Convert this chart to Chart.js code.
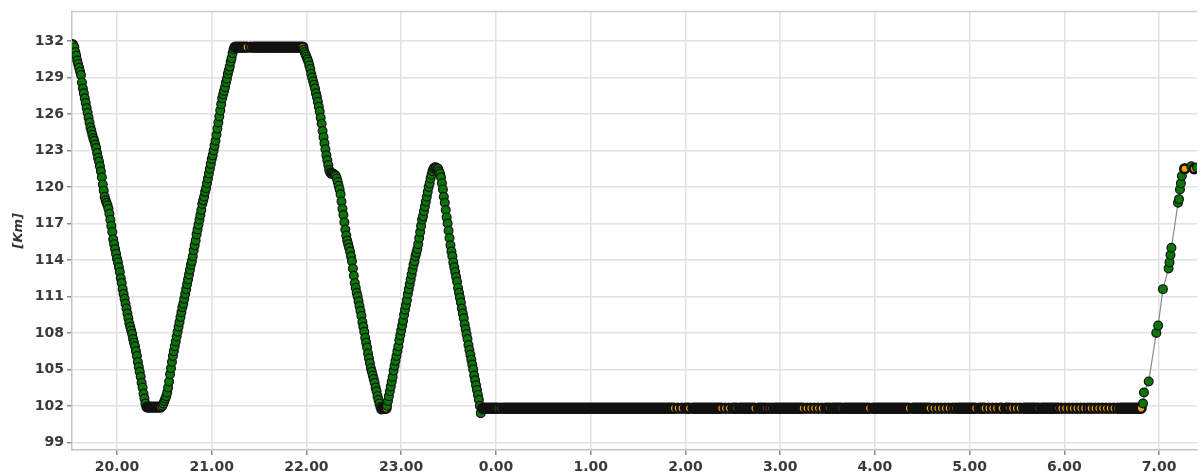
<!DOCTYPE html>
<html>
<head>
<meta charset="utf-8">
<script src="https://cdn.jsdelivr.net/npm/chart.js@4/dist/chart.umd.min.js"></script>
<style>
  html, body { margin: 0; padding: 0; background: #fff; overflow: hidden; }
  #wrap { width: 1204px; height: 476px; }
</style>
</head>
<body>
<div id="wrap"><canvas id="chart" width="1204" height="476"></canvas></div>
<script>
// Time axis: hours counted from midnight of the first evening (24.50 = 0:30 next morning)
const hourTicks  = [20, 21, 22, 23, 24, 25, 26, 27, 28, 29, 30, 31];
const hourLabels = ['20.00', '21.00', '22.00', '23.00', '0.00', '1.00', '2.00', '3.00', '4.00', '5.00', '6.00', '7.00'];
const kmTicks    = [99, 102, 105, 108, 111, 114, 117, 120, 123, 126, 129, 132];

// Stationary readings: times only, each stop sits at one kilometre mark
const startStopT = [19.53];
const startStopKm = 131.7;

const lowStop1T = [20.32, 20.34, 20.36, 20.38, 20.40, 20.42, 20.44, 20.46];
const lowStop1Km = 101.9;

const topStopT = [21.25, 21.27, 21.29, 21.31, 21.33, 21.35, 21.37, 21.41, 21.44, 21.46, 21.48, 21.50,
  21.52, 21.54, 21.56, 21.58, 21.60, 21.62, 21.64, 21.66, 21.68, 21.70, 21.72, 21.74, 21.76, 21.78,
  21.80, 21.82, 21.84, 21.86, 21.88, 21.90, 21.92, 21.94, 21.96];
const topStopKm = 131.5;

const lowStop2T = [22.80, 22.82, 22.84];
const lowStop2Km = 101.8;

const nightStopT = [23.86, 23.88, 23.90, 23.92, 23.94, 23.96, 23.98, 24.00, 24.02, 24.05,
  24.08, 24.10, 24.12, 24.14, 24.16, 24.18, 24.20, 24.22, 24.24, 24.26, 24.28, 24.30, 24.32, 24.34,
  24.36, 24.38, 24.40, 24.42, 24.44, 24.46, 24.48, 24.50, 24.52, 24.54, 24.56, 24.58, 24.60, 24.62,
  24.64, 24.66, 24.68, 24.70, 24.72, 24.74, 24.76, 24.78, 24.80, 24.82, 24.84, 24.86, 24.88, 24.90,
  24.92, 24.94, 24.96, 24.98, 25.00, 25.02, 25.04, 25.06, 25.08, 25.10, 25.12, 25.14, 25.16, 25.18,
  25.20, 25.22, 25.24, 25.26, 25.28, 25.30, 25.32, 25.34, 25.36, 25.38, 25.40, 25.42, 25.44, 25.46,
  25.48, 25.50, 25.52, 25.54, 25.56, 25.58, 25.60, 25.62, 25.64, 25.66, 25.68, 25.70, 25.72, 25.74,
  25.76, 25.78, 25.80, 25.82, 25.84, 25.86, 25.88, 25.92, 25.96, 26.00, 26.02, 26.04, 26.08,
  26.10, 26.12, 26.14, 26.16, 26.18, 26.20, 26.22, 26.24, 26.26, 26.28, 26.30, 26.32, 26.34, 26.36,
  26.38, 26.42, 26.46, 26.50, 26.52, 26.54, 26.57, 26.59, 26.61, 26.63, 26.65, 26.67, 26.69, 26.71,
  26.73, 26.77, 26.79, 26.81, 26.83, 26.85, 26.88, 26.91, 26.94, 26.96, 26.98, 27.00, 27.02, 27.04,
  27.06, 27.08, 27.10, 27.12, 27.14, 27.16, 27.18, 27.20, 27.22, 27.24, 27.28, 27.32, 27.36, 27.40,
  27.44, 27.48, 27.50, 27.52, 27.55, 27.57, 27.59, 27.61, 27.63, 27.65, 27.68, 27.70, 27.72, 27.74,
  27.76, 27.78, 27.80, 27.82, 27.84, 27.86, 27.88, 27.90, 27.92, 27.94, 27.98, 28.00, 28.02, 28.04,
  28.06, 28.08, 28.10, 28.12, 28.14, 28.16, 28.18, 28.20, 28.22, 28.24, 28.26, 28.28, 28.30, 28.32,
  28.34, 28.36, 28.40, 28.42, 28.44, 28.46, 28.48, 28.50, 28.52, 28.54, 28.56, 28.58, 28.62, 28.66,
  28.70, 28.74, 28.78, 28.82, 28.85, 28.88, 28.90, 28.92, 28.94, 28.96, 28.98, 29.00, 29.02, 29.04,
  29.06, 29.10, 29.12, 29.14, 29.16, 29.20, 29.24, 29.28, 29.32, 29.34, 29.38, 29.40, 29.42, 29.45,
  29.49, 29.53, 29.57, 29.59, 29.61, 29.63, 29.65, 29.67, 29.69, 29.71, 29.73, 29.76, 29.78, 29.80,
  29.82, 29.84, 29.86, 29.88, 29.90, 29.92, 29.94, 29.97, 30.01, 30.05, 30.09, 30.13, 30.17, 30.21,
  30.25, 30.28, 30.32, 30.36, 30.40, 30.44, 30.48, 30.52, 30.56, 30.59, 30.61, 30.63, 30.65, 30.67,
  30.69, 30.71, 30.73, 30.75, 30.77, 30.79, 30.81];
const nightStopKm = 101.8;

// Moving readings: [hour, km]
const down1 = [[19.55,131.5],[19.56,131.1],[19.57,130.8],[19.58,130.4],[19.59,130.1],[19.60,129.8],
  [19.61,129.5],[19.62,129.2],[19.63,128.6],[19.64,128.1],[19.65,127.7],[19.66,127.3],[19.67,126.9],
  [19.68,126.5],[19.69,126.1],[19.70,125.7],[19.71,125.3],[19.72,124.9],[19.73,124.6],[19.74,124.3],
  [19.75,124.0],[19.76,123.8],[19.77,123.5],[19.78,123.2],[19.79,122.8],[19.80,122.4],[19.81,122.1],
  [19.82,121.7],[19.83,121.3],[19.84,120.8],[19.85,120.2],[19.86,119.7],[19.87,119.2],[19.88,118.9],
  [19.89,118.7],[19.90,118.5],[19.91,118.2],[19.92,117.8],[19.93,117.3],[19.94,116.8],[19.95,116.3],
  [19.96,115.7],[19.97,115.3],[19.98,114.9],[19.99,114.5],[20.00,114.1],[20.01,113.8],[20.02,113.4],
  [20.03,113.0],[20.04,112.5],[20.05,112.1],[20.06,111.6],[20.07,111.2],[20.08,110.8],[20.09,110.4],
  [20.10,110.0],[20.11,109.6],[20.12,109.2],[20.13,108.8],[20.14,108.5],[20.15,108.2],[20.16,107.9],
  [20.17,107.5],[20.18,107.2],[20.19,106.9],[20.20,106.5],[20.21,106.1],[20.22,105.6],[20.23,105.2],
  [20.24,104.8],[20.25,104.4],[20.26,103.9],[20.27,103.5],[20.28,103.0],[20.29,102.6],[20.30,102.2],
  [20.31,101.9]];

const up1 = [[20.48,102.0],[20.49,102.2],[20.50,102.4],[20.51,102.6],[20.52,102.8],[20.53,103.1],
  [20.54,103.5],[20.55,104.0],[20.56,104.6],[20.57,105.1],[20.58,105.6],[20.59,106.1],[20.60,106.5],
  [20.61,106.9],[20.62,107.3],[20.63,107.7],[20.64,108.1],[20.65,108.5],[20.66,108.9],[20.67,109.3],
  [20.68,109.7],[20.69,110.1],[20.70,110.4],[20.71,110.8],[20.72,111.2],[20.73,111.6],[20.74,112.0],
  [20.75,112.4],[20.76,112.8],[20.77,113.2],[20.78,113.6],[20.79,113.9],[20.80,114.3],[20.81,114.8],
  [20.82,115.2],[20.83,115.6],[20.84,116.1],[20.85,116.5],[20.86,116.9],[20.87,117.3],[20.88,117.7],
  [20.89,118.1],[20.90,118.6],[20.91,118.9],[20.92,119.2],[20.93,119.6],[20.94,119.9],[20.95,120.3],
  [20.96,120.7],[20.97,121.1],[20.98,121.5],[20.99,121.9],[21.00,122.3],[21.01,122.6],[21.02,123.0],
  [21.03,123.4],[21.04,123.8],[21.05,124.3],[21.06,124.8],[21.07,125.3],[21.08,125.8],[21.09,126.3],
  [21.10,126.8],[21.11,127.3],[21.12,127.6],[21.13,127.9],[21.14,128.2],[21.15,128.6],[21.16,128.9],
  [21.17,129.3],[21.18,129.6],[21.19,129.9],[21.20,130.3],[21.21,130.6],[21.22,131.0],[21.23,131.3],
  [21.24,131.5]];

const down2 = [[21.97,131.3],[21.98,131.1],[21.99,130.9],[22.00,130.7],[22.01,130.5],[22.02,130.3],
  [22.03,130.0],[22.04,129.7],[22.05,129.3],[22.06,129.0],[22.07,128.7],[22.08,128.4],[22.09,128.1],
  [22.10,127.7],[22.11,127.4],[22.12,127.0],[22.13,126.6],[22.14,126.2],[22.15,125.7],[22.16,125.2],
  [22.17,124.6],[22.18,124.1],[22.19,123.6],[22.20,123.1],[22.21,122.6],[22.22,122.2],[22.23,121.8],
  [22.24,121.4],[22.25,121.2],[22.26,121.1],[22.27,121.1],[22.28,121.1],[22.29,121.0],[22.30,121.0],
  [22.31,120.9],[22.32,120.7],[22.33,120.4],[22.34,120.1],[22.35,119.8],[22.36,119.4],[22.37,118.8],
  [22.38,118.2],[22.39,117.7],[22.40,117.1],[22.41,116.5],[22.42,116.0],[22.43,115.6],[22.44,115.3],
  [22.45,115.0],[22.46,114.7],[22.47,114.3],[22.48,113.9],[22.49,113.3],[22.50,112.7],[22.51,112.1],
  [22.52,111.7],[22.53,111.3],[22.54,111.0],[22.55,110.6],[22.56,110.2],[22.57,109.8],[22.58,109.4],
  [22.59,108.9],[22.60,108.5],[22.61,108.1],[22.62,107.6],[22.63,107.2],[22.64,106.8],[22.65,106.3],
  [22.66,105.9],[22.67,105.5],[22.68,105.1],[22.69,104.8],[22.70,104.5],[22.71,104.2],[22.72,103.9],
  [22.73,103.5],[22.74,103.2],[22.75,102.8],[22.76,102.5],[22.77,102.2],[22.78,101.9],[22.79,101.7]];

const up2 = [[22.85,102.0],[22.86,102.4],[22.87,102.8],[22.88,103.2],[22.89,103.6],[22.90,104.0],
  [22.91,104.4],[22.92,104.9],[22.93,105.3],[22.94,105.7],[22.95,106.1],[22.96,106.5],[22.97,106.9],
  [22.98,107.4],[22.99,107.8],[23.00,108.2],[23.01,108.6],[23.02,109.0],[23.03,109.5],[23.04,109.9],
  [23.05,110.3],[23.06,110.7],[23.07,111.2],[23.08,111.6],[23.09,112.0],[23.10,112.4],[23.11,112.8],
  [23.12,113.2],[23.13,113.6],[23.14,113.9],[23.15,114.3],[23.16,114.6],[23.17,114.9],[23.18,115.3],
  [23.19,115.8],[23.20,116.3],[23.21,116.8],[23.22,117.3],[23.23,117.6],[23.24,118.0],[23.25,118.4],
  [23.26,118.8],[23.27,119.2],[23.28,119.6],[23.29,120.0],[23.30,120.3],[23.31,120.7],[23.32,121.0],
  [23.33,121.3],[23.34,121.5],[23.35,121.6],[23.36,121.6],[23.37,121.6],[23.38,121.5],[23.39,121.5]];

const down3 = [[23.40,121.3],[23.41,121.1],[23.42,120.8],[23.43,120.3],[23.44,119.8],[23.45,119.2],
  [23.46,118.7],[23.47,118.1],[23.48,117.5],[23.49,117.0],[23.50,116.4],[23.51,115.8],[23.52,115.2],
  [23.53,114.7],[23.54,114.3],[23.55,113.8],[23.56,113.4],[23.57,113.0],[23.58,112.6],[23.59,112.2],
  [23.60,111.7],[23.61,111.3],[23.62,110.9],[23.63,110.5],[23.64,110.0],[23.65,109.6],[23.66,109.2],
  [23.67,108.7],[23.68,108.3],[23.69,107.9],[23.70,107.5],[23.71,107.0],[23.72,106.6],[23.73,106.2],
  [23.74,105.8],[23.75,105.4],[23.76,105.0],[23.77,104.5],[23.78,104.1],[23.79,103.7],[23.80,103.3],
  [23.81,102.9],[23.82,102.5],[23.83,102.0],[23.84,101.4]];

const up3 = [[30.83,102.2],[30.84,103.1],[30.89,104.0],[30.97,108.0],[30.99,108.6],[31.04,111.6],
  [31.10,113.3],[31.11,113.8],[31.12,114.4],[31.13,115.0],[31.20,118.7],[31.21,119.0],[31.22,119.8],
  [31.23,120.3],[31.24,120.9]];

// Last readings: [hour, km, stopped]
const arrival = [[31.27,121.5,1],[31.34,121.7,0],[31.37,121.5,1],[31.40,121.6,0]];

const track = [];
function addStop(times, km) { times.forEach(t => track.push({ x: t, y: km, stop: true })); }
function addRun(pairs) { pairs.forEach(([t, km]) => track.push({ x: t, y: km, stop: false })); }

addStop(startStopT, startStopKm);
addRun(down1);
addStop(lowStop1T, lowStop1Km);
addRun(up1);
addStop(topStopT, topStopKm);
addRun(down2);
addStop(lowStop2T, lowStop2Km);
addRun(up2);
addRun(down3);
addStop(nightStopT, nightStopKm);
addRun(up3);
arrival.forEach(([t, km, s]) => track.push({ x: t, y: km, stop: s === 1 }));

const GREEN = '#0a760a';
const ORANGE = '#f6a300';

// frame line along the top of the plot area
const topFrame = {
  id: 'topFrame',
  beforeDatasetsDraw(chart) {
    const { ctx, chartArea: a } = chart;
    ctx.save();
    ctx.strokeStyle = '#cdcdcd';
    ctx.lineWidth = 1.5;
    ctx.beginPath();
    ctx.moveTo(a.left, a.top);
    ctx.lineTo(a.right, a.top);
    ctx.stroke();
    ctx.restore();
  }
};

const tickFont = { family: 'DejaVu Sans', weight: 'bold', size: 14 };

new Chart(document.getElementById('chart'), {
  type: 'scatter',
  data: {
    datasets: [{
      data: track,
      showLine: true,
      borderColor: '#8a8a8a',
      borderWidth: 1.2,
      tension: 0,
      pointRadius: 4.4,
      pointBorderColor: '#111',
      pointBorderWidth: ctx => (ctx.raw && ctx.raw.stop ? 2.6 : 1.2),
      pointBackgroundColor: ctx => (ctx.raw && ctx.raw.stop ? ORANGE : GREEN)
    }]
  },
  options: {
    responsive: false,
    animation: false,
    events: [],
    layout: { padding: { top: 11, right: 0, bottom: 0, left: 0 } },
    plugins: { legend: { display: false }, tooltip: { enabled: false } },
    scales: {
      x: {
        type: 'linear',
        min: 19.525,
        max: 31.40,
        afterBuildTicks: s => { s.ticks = hourTicks.map(v => ({ value: v })); },
        afterFit: s => { s.height = 26; },
        ticks: {
          callback: (v, i) => hourLabels[i],
          font: tickFont, color: '#3a3a3a', padding: 4,
          maxRotation: 0, autoSkip: false
        },
        grid: { color: '#e2e2e2', lineWidth: 1.5, tickLength: 5, tickColor: '#8c8c8c' },
        border: { color: '#c4c4c4', width: 1.5 }
      },
      y: {
        min: 98.37,
        max: 134.44,
        afterBuildTicks: s => { s.ticks = kmTicks.map(v => ({ value: v })); },
        afterFit: s => { s.width = 72; },
        ticks: { font: tickFont, color: '#3a3a3a', padding: 3 },
        grid: { color: '#e2e2e2', lineWidth: 1.5, tickLength: 5, tickColor: '#8c8c8c' },
        border: { color: '#c4c4c4', width: 1.5 },
        title: {
          display: true,
          text: '[Km]',
          color: '#333',
          font: { family: 'DejaVu Sans', weight: 'bold', style: 'italic', size: 13 },
          padding: { top: 11, bottom: 0 }
        }
      }
    }
  },
  plugins: [topFrame]
});
</script>
</body>
</html>
